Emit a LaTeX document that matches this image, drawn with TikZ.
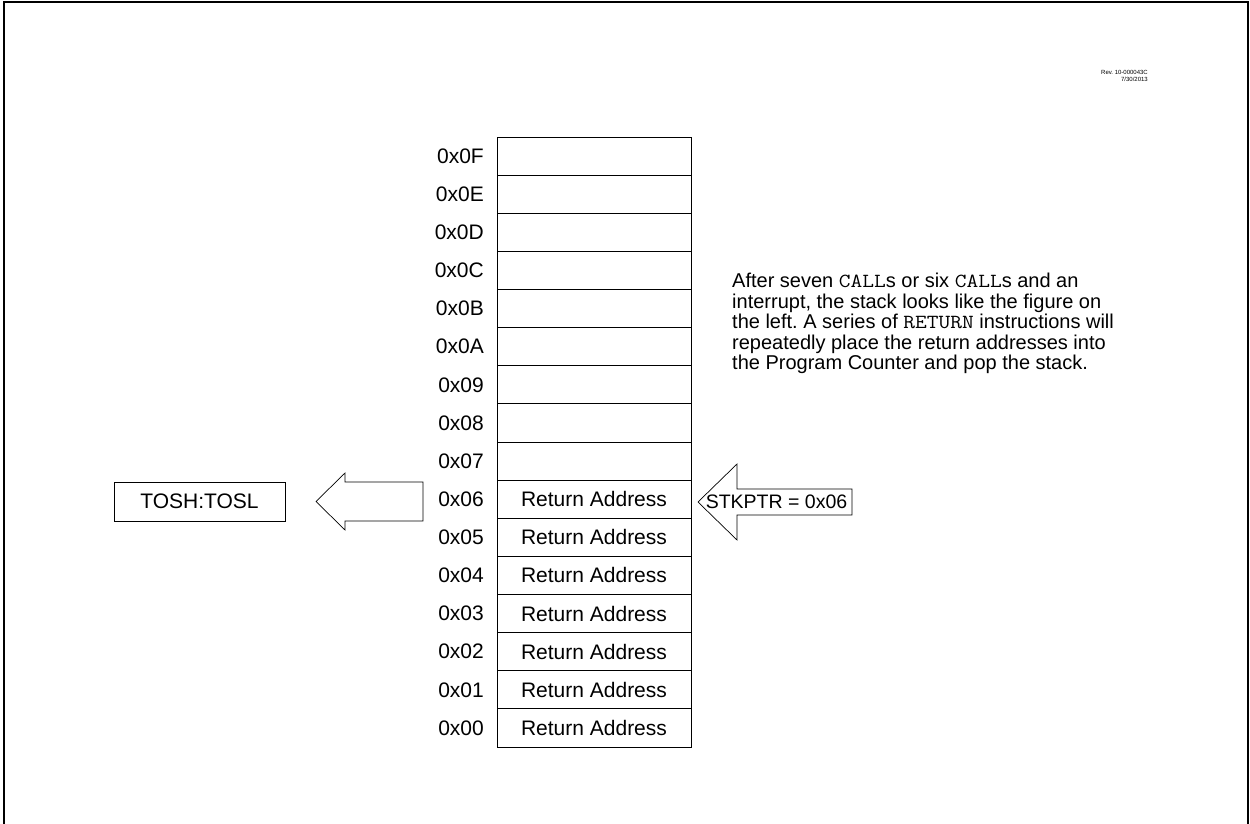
\documentclass[tikz,border=0pt]{standalone}
\usepackage{fontspec}
\setmainfont{Liberation Sans}
\setmonofont{Latin Modern Mono}[FakeStretch=1.14]
\frenchspacing

\begin{document}
\begin{tikzpicture}[x=1pt, y=-1pt,
  txt/.style={font=\fontsize{21}{20.5}\selectfont, inner sep=0pt},
  cell/.style={draw, line width=1pt, minimum width=194pt, minimum height=38.125pt, inner sep=0pt, font=\fontsize{21}{24}\selectfont},
  blockarrow/.style={draw, line width=0.7pt, line join=miter}]
  \useasboundingbox (0,0) rectangle (1250,824);
  % frame
  \draw[line width=2pt] (4,824) -- (4,2) -- (1248,2) -- (1248,824);
  % revision tag
  \node[font=\fontsize{6}{7}\selectfont, align=right, anchor=south east, inner sep=0pt] (rev) at (1148,82) {Rev. 10-000043C\\7/30/2013};
  % stack, 0x00 at the bottom
  \foreach \h [count=\i from 0] in {00,01,02,03,04,05,06,07,08,09,0A,0B,0C,0D,0E,0F} {
    \node[cell] (c\i) at (594,{727.94-38.125*\i}) {\ifnum\i<7 Return Address\fi};
    \node[txt, anchor=east] (a\i) at (484,{727.94-38.125*\i}) {0x\h};
  }
  % top of stack registers
  \node[draw, line width=0.8pt, txt, minimum width=171pt, minimum height=39pt] (tos) at (199.5,501.5) {TOSH:TOSL};
  \draw[blockarrow] (423,482) -- (345,482) -- (345,473) -- (316,501.5) -- (345,530) -- (345,521) -- (423,521) -- cycle;
  % stack pointer
  \draw[blockarrow] (698,502) -- (737,464) -- (737,489) -- (852,489) -- (852,515) -- (737,515) -- (737,540) -- cycle;
  \node[txt, font=\fontsize{19.5}{20}\selectfont] (sp) at (776.5,502) {STKPTR = 0x06};
  % note
  \node[txt, font=\fontsize{20}{20.5}\selectfont, align=left, anchor=north west] (note) at (732,273) {After seven \texttt{CALL}s or six \texttt{CALL}s and an\\
    interrupt, the stack looks like the figure on\\
    the left. A series of \texttt{RETURN} instructions will\\
    repeatedly place the return addresses into\\
    the Program Counter and pop the stack.};
\end{tikzpicture}
\end{document}
